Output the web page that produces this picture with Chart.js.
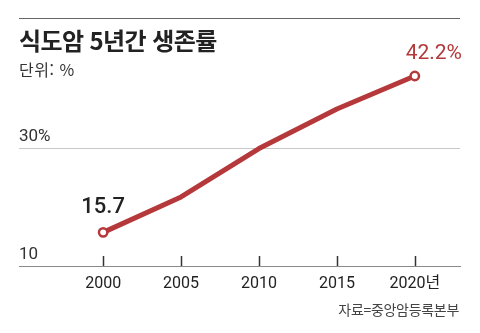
<!DOCTYPE html>
<html lang="ko">
<head>
<meta charset="utf-8">
<title>식도암 5년간 생존률</title>
<script src="https://cdn.jsdelivr.net/npm/chart.js@4/dist/chart.umd.min.js"></script>
<style>
  html, body { margin: 0; padding: 0; background: #fff; }
  #wrap { position: relative; width: 480px; height: 333px; overflow: hidden; }
  #chart { position: absolute; left: 0; top: 0; }
  .rule { position: absolute; left: 19px; top: 18px; width: 441px; height: 1px; background: #666; }
  .title, .unit, .source { position: absolute; font-family: 'Noto Sans CJK KR', sans-serif; white-space: nowrap; }
  .title { left: 19px; top: 28px; font-size: 24px; line-height: 24px; font-weight: 700; letter-spacing: -0.6px; color: #222; }
  .unit { left: 19px; top: 61px; font-size: 16px; line-height: 16px; letter-spacing: 0.5px; color: #333; }
  .source { right: 21px; top: 302px; font-size: 14px; line-height: 14px; letter-spacing: -0.3px; color: #444; }
</style>
</head>
<body>
<div id="wrap">
  <canvas id="chart" width="480" height="333"></canvas>
  <div class="rule"></div>
  <div class="title">식도암 5년간 생존률</div>
  <div class="unit">단위: %</div>
  <div class="source">자료=중앙암등록본부</div>
</div>
<script>
// 5-year survival rate for esophageal cancer (%)
const years = [2000, 2005, 2010, 2015, 2020];
const survival = [15.7, 21.7, 29.9, 36.6, 42.2];
const yTicks = [10, 30];

const RED = '#b5383b';
const FONT = "Roboto, 'Noto Sans CJK KR', sans-serif";

// small upward tick marks on the baseline at each year
const tickMarks = {
  id: 'tickMarks',
  beforeDatasetsDraw(chart) {
    const { ctx, scales: { x }, chartArea } = chart;
    ctx.save();
    ctx.strokeStyle = '#333';
    ctx.lineWidth = 1.5;
    years.forEach(v => {
      const px = Math.round(x.getPixelForValue(v)) + 0.5;
      ctx.beginPath();
      ctx.moveTo(px, chartArea.bottom);
      ctx.lineTo(px, chartArea.bottom - 10);
      ctx.stroke();
    });
    ctx.restore();
  }
};

// value labels on the first and last point
const endLabels = {
  id: 'endLabels',
  afterDatasetsDraw(chart) {
    const { ctx } = chart;
    const pts = chart.getDatasetMeta(0).data;
    const last = survival.length - 1;
    ctx.save();
    ctx.textAlign = 'center';
    ctx.textBaseline = 'middle';

    const p0 = pts[0];
    ctx.font = '500 22px ' + FONT;
    ctx.fillStyle = '#222';
    ctx.fillText(String(survival[0]), p0.x, p0.y - 25);

    const pN = pts[last];
    ctx.font = '21px ' + FONT;
    ctx.fillStyle = RED;
    ctx.fillText(survival[last] + '%', pN.x + 19, pN.y - 22);
    ctx.restore();
  }
};

new Chart(document.getElementById('chart'), {
  type: 'line',
  data: {
    datasets: [{
      data: years.map((y, i) => ({ x: y, y: survival[i] })),
      borderColor: RED,
      borderWidth: 5,
      borderJoinStyle: 'round',
      borderCapStyle: 'round',
      tension: 0,
      pointRadius: ctx => (ctx.dataIndex === 0 || ctx.dataIndex === survival.length - 1) ? 4.2 : 0,
      pointBorderWidth: 2.5,
      pointBorderColor: RED,
      pointBackgroundColor: '#fff'
    }]
  },
  options: {
    responsive: false,
    animation: false,
    layout: { padding: { left: 19, right: 20, top: 30, bottom: 37 } },
    plugins: { legend: { display: false }, tooltip: { enabled: false } },
    scales: {
      x: {
        type: 'linear',
        min: 1994.6,
        max: 2022.9,
        afterBuildTicks: axis => { axis.ticks = years.map(v => ({ value: v })); },
        afterFit: axis => { axis.height = 30; },
        grid: { display: false },
        border: { display: true, color: '#8a8a8a', width: 1 },
        ticks: {
          padding: 0,
          color: '#222',
          font: { family: FONT, size: 16 },
          callback: v => v === 2020 ? '2020년' : String(v)
        }
      },
      y: {
        min: 10,
        max: 50,
        afterBuildTicks: axis => { axis.ticks = yTicks.map(v => ({ value: v })); },
        afterFit: axis => { axis.width = 0; },
        grid: {
          drawTicks: false,
          color: ctx => ctx.tick && ctx.tick.value === 30 ? '#c8c8c8' : 'rgba(0,0,0,0)'
        },
        border: { display: false },
        ticks: {
          mirror: true,
          padding: 0,
          labelOffset: -11,
          color: '#333',
          font: { family: FONT, size: 17 },
          callback: v => v === 30 ? '30%' : String(v)
        }
      }
    }
  },
  plugins: [tickMarks, endLabels]
});
</script>
</body>
</html>
